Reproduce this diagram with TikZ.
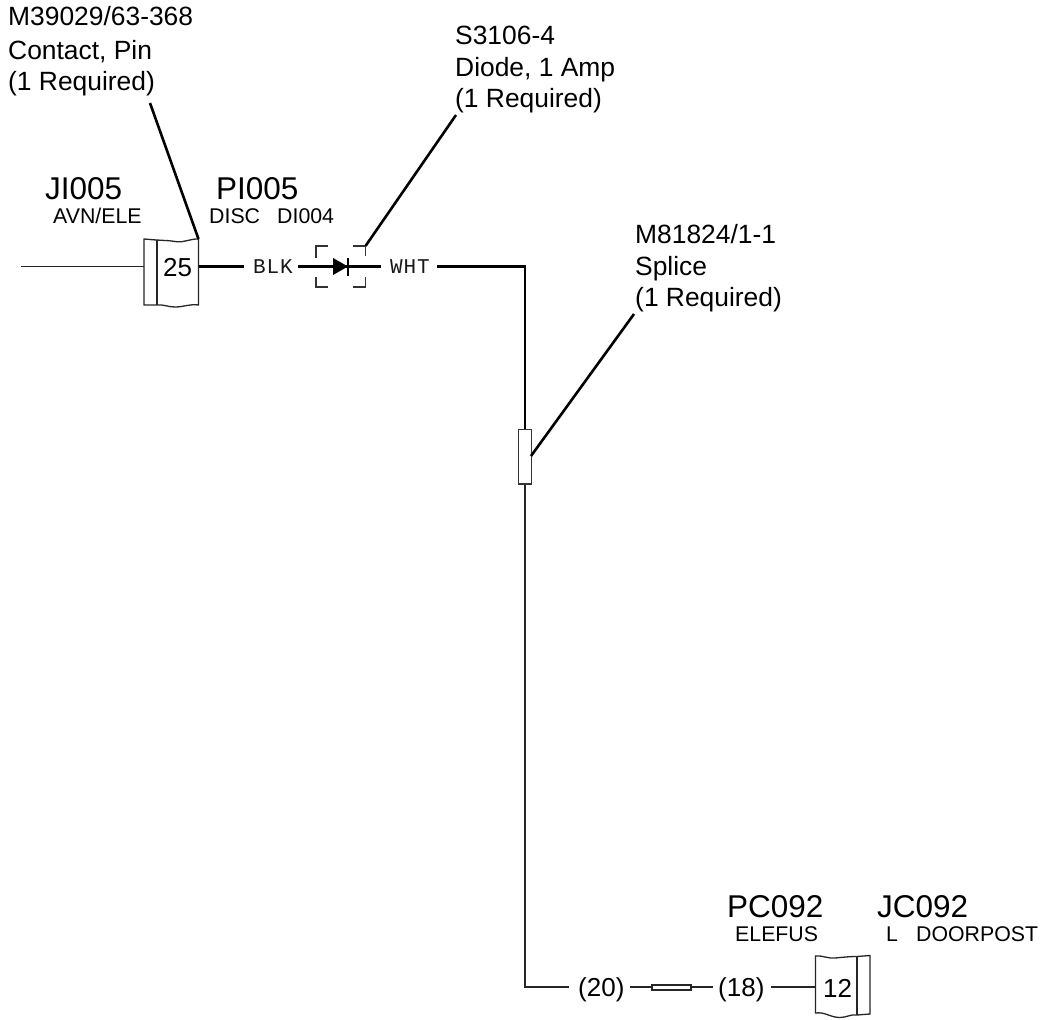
\documentclass[tikz,border=0pt]{standalone}
\usepackage{fontspec}
\setmainfont{Liberation Sans}
\newfontfamily\wirefont[LetterSpace=4]{Liberation Mono}
\tikzset{
  x=1pt,y=-1pt,
  thin wire/.style={line width=1.4pt,black!85},
  thick wire/.style={line width=2.6pt,black},
  leader/.style={line width=2.6pt,black},
  box line/.style={line width=1.3pt,black!85},
  callout/.style={anchor=base west,inner sep=0pt,font=\fontsize{26.4}{26.4}\selectfont,text=black},
  tag/.style={anchor=base west,inner sep=0pt,font=\fontsize{31.5}{31.5}\selectfont,text=black},
  sub/.style={anchor=base west,inner sep=0pt,font=\fontsize{21.3}{21.3}\selectfont,text=black},
  pin/.style={anchor=base west,inner sep=0pt,font=\fontsize{26}{26}\selectfont,text=black},
  wirelabel/.style={anchor=base west,inner sep=0pt,font=\wirefont\fontsize{21}{21}\selectfont,text=black!90},
}
\begin{document}
\begin{tikzpicture}
\useasboundingbox (0,0) rectangle (1040,1019);
\fill[white] (0,0) rectangle (1040,1019);
% named anchor points
\coordinate (w0) at (21,266.5);
\coordinate (j1l) at (144,266.5);
\coordinate (j1r) at (198.5,266.5);
\coordinate (b1) at (244,266.5);
\coordinate (b2) at (298,266.5);
\coordinate (d2) at (381,266.5);
\coordinate (w1) at (437,266.5);
\coordinate (bend) at (525,266.5);
\coordinate (sp1) at (525,429.5);
\coordinate (sp2) at (525,484);
\coordinate (bend2) at (525,987);
\coordinate (s20) at (569,987);
\coordinate (e20) at (630,987);
\coordinate (r1) at (652,987);
\coordinate (r2) at (691,987);
\coordinate (s18) at (713,987);
\coordinate (e18) at (771,987);
\coordinate (j2l) at (815.5,987);
% connector JI005/PI005
\draw[box line,fill=white] (144,239) to[out=-3,in=178] (157,240) to[out=-5,in=170] (175,241.5) to[out=-10,in=178] (198.5,239) -- (198.5,305) to[out=172,in=0] (175,307) to[out=180,in=5] (157,305) -- (144,305) -- cycle;
\draw[box line] (157,240) -- (157,305);
% connector PC092/JC092
\draw[box line,fill=white] (815.5,956) to[out=5,in=185] (835,958) to[out=5,in=180] (857,956.5) -- (870,955.5) -- (870,1014) -- (857,1015) to[out=172,in=0] (840,1017.5) to[out=180,in=8] (815.5,1013) -- cycle;
\draw[box line] (857,956.5) -- (857,1015);
% wires
\draw[thin wire] (w0) -- (j1l);
\draw[thick wire] (j1r) -- (b1);
\draw[thick wire] (b2) -- (d2);
\draw[thick wire,line join=miter] (w1) -- (bend) -- (sp1);
\draw[thin wire] (sp2) -- (bend2) -- (s20);
\draw[thin wire] (e20) -- (r1);
\draw[thin wire] (r2) -- (s18);
\draw[thin wire] (e18) -- (j2l);
% inline splice
\draw[box line,fill=white] (652,985) rectangle (691,990);
% diode
\fill[black] (333,258) -- (348,266.5) -- (333,275) -- cycle;
\draw[line width=1.2pt,black] (348,257.5) -- (348,276);
\draw[line width=1.2pt,black!80] (316,258) -- (316,246) -- (328,246);
\draw[line width=1.2pt,black!80] (353,246) -- (365.5,246) -- (365.5,256);
\draw[line width=1.2pt,black!80] (316,277) -- (316,287) -- (328,287);
\draw[line width=1.2pt,black!80] (353,287) -- (365.5,287) -- (365.5,277);
% splice
\draw[line width=1.2pt,black!80,fill=white] (518.5,429.5) rectangle (531.5,484);
% leaders
\draw[leader] (150,103) -- (198.5,239);
\draw[leader] (456,115) -- (365.5,246);
\draw[leader] (634,314) -- (531,456);
% texts
\node[callout] (ca1) at (8,26) {M39029/63-368};
\node[callout] (ca2) at (8,59.5) {Contact, Pin};
\node[callout] (ca3) at (8,91) {(1 Required)};
\node[callout] (cb1) at (455,44.5) {S3106-4};
\node[callout] (cb2) at (455,76.5) {Diode, 1 Amp};
\node[callout] (cb3) at (455,108) {(1 Required)};
\node[callout] (cc1) at (635,243) {M81824/1-1};
\node[callout] (cc2) at (635,275) {Splice};
\node[callout] (cc3) at (635,306) {(1 Required)};
\node[tag] (ji) at (45,199) {JI005};
\node[sub] (jis) at (53,223) {AVN/ELE};
\node[tag] (pi) at (216,199) {PI005};
\node[sub] (pis) at (209,223) {DISC};
\node[sub] (dis) at (277,223) {DI004};
\node[tag] (pc) at (727,917) {PC092};
\node[sub] (pcs) at (735,941) {ELEFUS};
\node[tag] (jc) at (877,917) {JC092};
\node[sub] (jcl) at (886,941) {L};
\node[sub] (jcs) at (916,941) {DOORPOST};
\node[pin] (p25) at (163,276) {25};
\node[pin] (p12) at (823,997) {12};
\node[wirelabel] (blk) at (253,273) {BLK};
\node[wirelabel] (wht) at (390,273) {WHT};
\node[pin] (g20) at (578,996) {(20)};
\node[pin] (g18) at (718,996) {(18)};
\end{tikzpicture}
\end{document}
